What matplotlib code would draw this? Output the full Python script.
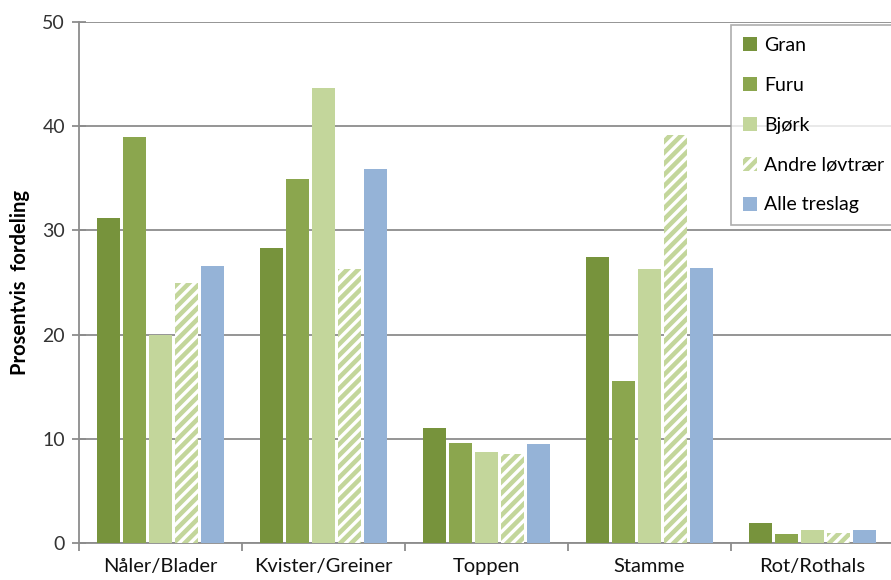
import numpy as np
import matplotlib
matplotlib.use('Agg')
import matplotlib.pyplot as plt

plt.rcParams['font.family'] = ['Lato', 'DejaVu Sans']
plt.rcParams['hatch.linewidth'] = 2.4
plt.rcParams['hatch.color'] = 'white'

categories = ['Nåler/Blader', 'Kvister/Greiner', 'Toppen', 'Stamme', 'Rot/Rothals']
series = ['Gran', 'Furu', 'Bjørk', 'Andre løvtrær', 'Alle treslag']
gran = [31.2, 28.3, 11.0, 27.4, 1.9]
furu = [39.0, 34.9, 9.6, 15.5, 0.9]
bjork = [20.0, 43.7, 8.7, 26.3, 1.2]
andre = [25.0, 26.3, 8.5, 39.2, 1.0]
alle = [26.6, 35.9, 9.5, 26.4, 1.2]

values = [gran, furu, bjork, andre, alle]
colors = ['#77933C', '#8BA64E', '#C3D69B', '#C3D69B', '#95B3D7']
hatches = [None, None, None, '///', None]

fig = plt.figure(figsize=(8.91, 5.8), dpi=100)
ax = fig.add_axes([79/891, 37/580, 815/891, 521/580])

x = np.arange(len(categories))
pitch = 0.16
width = 0.143
for k, (vals, col, h, lab) in enumerate(zip(values, colors, hatches, series)):
    pos = x + (k - 2) * pitch
    if h:
        ax.bar(pos, vals, width, color=col, edgecolor='white', hatch=h,
               linewidth=0, label=lab, zorder=3)
    else:
        ax.bar(pos, vals, width, color=col, linewidth=0, label=lab, zorder=3)

ax.set_xlim(-0.5, 4.5)
ax.set_ylim(0, 50)
ax.set_yticks(np.arange(0, 51, 10))
ax.yaxis.grid(True, color='#8c8c8c', linewidth=1.3, zorder=0)
ax.set_axisbelow(True)

for s in ['top', 'right']:
    ax.spines[s].set_visible(False)
ax.spines['left'].set_color('#8c8c8c')
ax.spines['bottom'].set_color('#8c8c8c')
ax.spines['left'].set_linewidth(1.3)
ax.spines['bottom'].set_linewidth(1.3)

ax.tick_params(axis='y', direction='inout', length=10, width=1.3, color='#8c8c8c',
               labelsize=14, labelcolor='#333333', pad=5)
ax.set_xticks(x)
ax.set_xticklabels(categories)
ax.set_xticks(np.arange(-0.5, 4.6, 1), minor=True)
ax.tick_params(axis='x', which='major', length=0, labelsize=14.5, labelcolor='#111111', pad=11)
ax.tick_params(axis='x', which='minor', direction='out', length=6, width=1.3, color='#8c8c8c')

ax.set_ylabel('Prosentvis  fordeling', fontsize=14.5, fontweight='bold', labelpad=9)

leg = fig.legend(loc='upper left', bbox_to_anchor=(731/891, 1 - 25/580),
                 fontsize=14, frameon=True, fancybox=False, labelspacing=1.18,
                 handlelength=0.75, handleheight=0.75, handletextpad=0.35,
                 borderpad=0.6, borderaxespad=0)
leg.get_frame().set_edgecolor('#9a9a9a')
leg.get_frame().set_linewidth(1.2)

fig.savefig('out.png', dpi=100)
